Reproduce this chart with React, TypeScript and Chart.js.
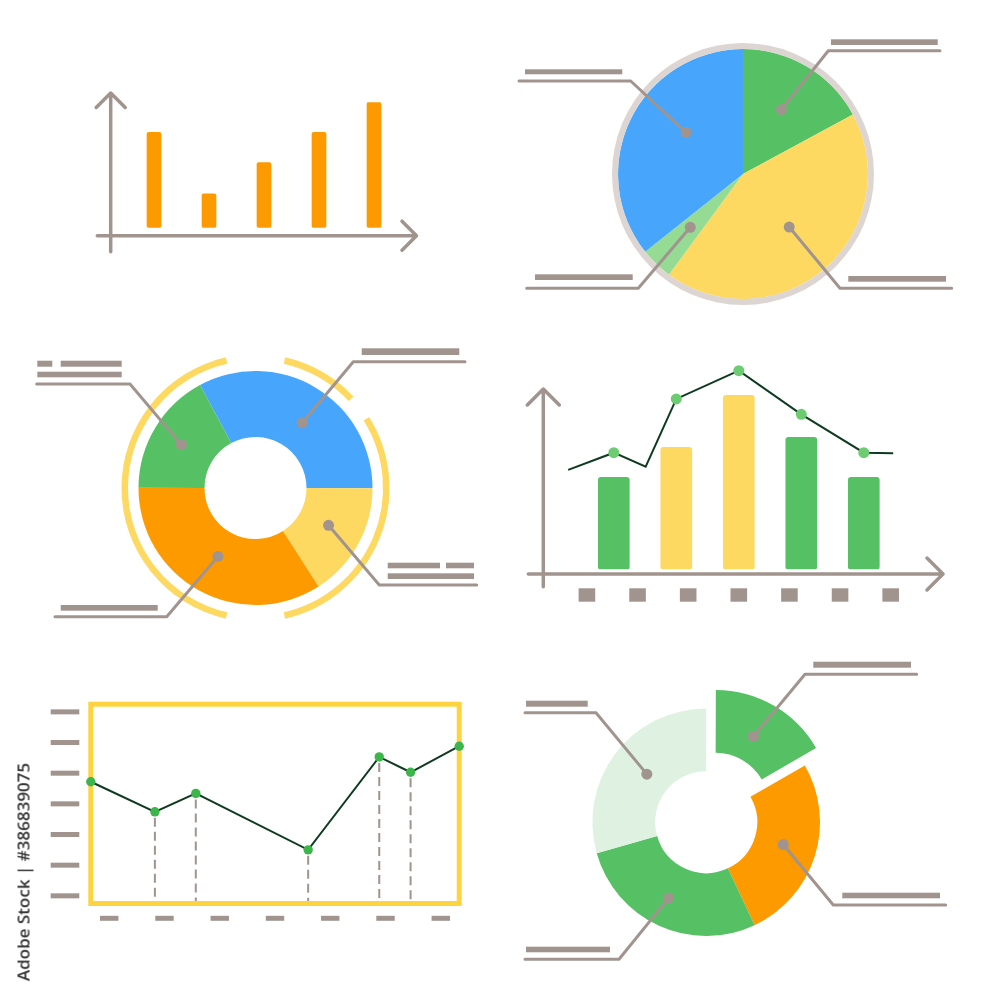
import React, { useEffect, useRef } from "react";
import { Chart, registerables } from "chart.js";
Chart.register(...registerables);

const W = 988;
const H = 1000;

// ---------- colours ----------
const GRAY = "#a1948f";
const RING_GRAY = "#ddd5d2";
const ORANGE = "#fd9a00";
const BLUE = "#47a6fc";
const GREEN = "#56c064";
const LIGHT_GREEN = "#95db94";
const PALE_GREEN = "#dff2e1";
const YELLOW = "#fdd962";
const BOX_YELLOW = "#fdd33f";
const DARK_LINE = "#0e3b20";
const DOT_GREEN = "#6dcc72";
const DOT_GREEN2 = "#3cb54a";
const CLEAR = "rgba(0,0,0,0)";

// ---------- chart 1 (top-left bars) ----------
const barCats1 = ["A", "B", "C", "D", "E"];
const barVals1 = [76, 27, 52, 76, 100];

// ---------- chart 2 (top-right pie) ----------
const pieLabels2 = ["Green", "Yellow", "Light green", "Blue"];
const pieVals2 = [17.1, 43.0, 4.2, 35.7];

// ---------- chart 3 (middle-left donut) ----------
const donutLabels3 = ["Blue", "Yellow", "Orange", "Green"];
const donutVals3 = [32.9, 15.9, 34.1, 17.1];
const ringArcs3 = [34.2, 11, 109.2, 25.6, 154.4, 25.6];
const ringShown3 = [1, 0, 1, 0, 1, 0];

// ---------- chart 4 (middle-right bars + line) ----------
const barX4 = [1, 2, 3, 4, 5];
const barY4 = [46, 61, 87, 66, 46];
const barKind4 = ["g", "y", "y", "g", "g"];
const lineX4 = [0.27, 1, 1.51, 2, 3, 4, 5, 5.47];
const lineY4 = [49.7, 58.3, 51.3, 85.2, 99.3, 77.5, 58.3, 58];
const lineDots4 = [0, 1, 0, 1, 1, 1, 1, 0];
const xSlots4 = [0.57, 1.38, 2.19, 3, 3.81, 4.62, 5.43];

// ---------- chart 5 (bottom-left line) ----------
const lineX5 = [0, 17.4, 28.5, 59, 78.3, 86.8, 100];
const lineY5 = [3.72, 2.74, 3.34, 1.5, 4.53, 4.03, 4.88];
const yTicks5 = [0, 1, 2, 3, 4, 5, 6];
const xTicks5 = [5, 20, 35, 50, 65, 80, 95];

// ---------- chart 6 (bottom-right donut) ----------
const donutLabels6 = ["Green (out)", "Orange", "Green", "Pale green"];
const donutVals6 = [16.7, 26.3, 27.6, 29.4];

// ---------- helpers ----------
const pad = (l: number, t: number, r: number, b: number) => ({
  left: l,
  top: t,
  right: W - r,
  bottom: H - b,
});

const baseOptions = (padding: any) => ({
  animation: false,
  responsive: false,
  events: [],
  layout: { padding },
  plugins: { legend: { display: false }, tooltip: { enabled: false } },
});

function arrow(ctx: CanvasRenderingContext2D, x1: number, y1: number, x2: number, y2: number, head: number) {
  const len = Math.hypot(x2 - x1, y2 - y1);
  const dx = (x2 - x1) / len;
  const dy = (y2 - y1) / len;
  const nx = -dy;
  const ny = dx;
  ctx.beginPath();
  ctx.moveTo(x1, y1);
  ctx.lineTo(x2, y2);
  ctx.moveTo(x2 - dx * head + nx * head, y2 - dy * head + ny * head);
  ctx.lineTo(x2, y2);
  ctx.lineTo(x2 - dx * head - nx * head, y2 - dy * head - ny * head);
  ctx.stroke();
}

type Callout = {
  ds: number;
  i: number;
  t: number;
  r: number;
  elbow: [number, number];
  endX: number;
  bars: number[][];
};

const calloutPlugin = (callouts: Callout[]) => ({
  id: "callouts",
  afterDatasetsDraw(chart: any) {
    const ctx: CanvasRenderingContext2D = chart.ctx;
    ctx.save();
    callouts.forEach((c) => {
      const arc: any = chart.getDatasetMeta(c.ds).data[c.i];
      const { x, y, startAngle, endAngle, innerRadius, outerRadius } = arc;
      const off = (arc.options.offset || 0) / 4;
      const mid = (startAngle + endAngle) / 2;
      const a = startAngle + (endAngle - startAngle) * c.t;
      const rr = innerRadius + (outerRadius - innerRadius) * c.r;
      const px = x + Math.cos(mid) * off + Math.cos(a) * rr;
      const py = y + Math.sin(mid) * off + Math.sin(a) * rr;
      ctx.strokeStyle = GRAY;
      ctx.fillStyle = GRAY;
      ctx.lineWidth = 3;
      ctx.lineCap = "round";
      ctx.lineJoin = "round";
      ctx.beginPath();
      ctx.moveTo(px, py);
      ctx.lineTo(c.elbow[0], c.elbow[1]);
      ctx.lineTo(c.endX, c.elbow[1]);
      ctx.stroke();
      ctx.beginPath();
      ctx.arc(px, py, 5.5, 0, Math.PI * 2);
      ctx.fill();
      c.bars.forEach((b) => ctx.fillRect(b[0], b[1], b[2] - b[0], b[3] - b[1]));
    });
    ctx.restore();
  },
});

// ---------- chart configs ----------
function config1() {
  return {
    type: "bar",
    data: {
      labels: barCats1,
      datasets: [
        {
          data: barVals1,
          backgroundColor: ORANGE,
          barThickness: 14,
          borderRadius: 2,
          borderSkipped: false,
        },
      ],
    },
    options: {
      ...baseOptions(pad(126.5, 102.3, 401.5, 227.7)),
      scales: {
        x: { display: false },
        y: { display: false, min: 0, max: 100 },
      },
    },
    plugins: [
      {
        id: "axes1",
        beforeDatasetsDraw(chart: any) {
          const ctx: CanvasRenderingContext2D = chart.ctx;
          ctx.save();
          ctx.strokeStyle = GRAY;
          ctx.lineWidth = 3.5;
          ctx.lineCap = "round";
          ctx.lineJoin = "round";
          arrow(ctx, 110.7, 251.7, 110.7, 93, 14.5);
          arrow(ctx, 97.3, 235.7, 416.5, 235.7, 14.5);
          ctx.restore();
        },
      },
    ],
  };
}

function config2() {
  const cx = 743;
  const cy = 174;
  const s = 140;
  return {
    type: "doughnut",
    data: {
      labels: pieLabels2,
      datasets: [
        { data: [1], backgroundColor: RING_GRAY, weight: 6, borderWidth: 0 },
        {
          data: pieVals2,
          backgroundColor: [GREEN, YELLOW, LIGHT_GREEN, BLUE],
          weight: 125,
          borderWidth: 0,
        },
      ],
    },
    options: {
      ...baseOptions(pad(cx - s, cy - s, cx + s, cy + s)),
      radius: 131,
      cutout: 0,
    },
    plugins: [
      calloutPlugin([
        { ds: 1, i: 0, t: 0.5, r: 0.6, elbow: [828.3, 50.7], endX: 940, bars: [[831, 39.3, 937.7, 45]] },
        { ds: 1, i: 1, t: 0.5, r: 0.563, elbow: [840, 288.3], endX: 951.7, bars: [[848.3, 276, 946, 281.7]] },
        { ds: 1, i: 2, t: 0.55, r: 0.6, elbow: [638.3, 288.3], endX: 526.7, bars: [[535, 274.3, 632.7, 280]] },
        { ds: 1, i: 3, t: 0.58, r: 0.563, elbow: [630.7, 81], endX: 519, bars: [[525, 69.3, 622.3, 74.3]] },
      ]),
    ],
  };
}

function config3() {
  const cx = 255.5;
  const cy = 488;
  const s = 145;
  return {
    type: "doughnut",
    data: {
      labels: donutLabels3,
      datasets: [
        {
          data: ringArcs3,
          backgroundColor: ringShown3.map((v) => (v ? YELLOW : CLEAR)),
          weight: 6.5,
          borderWidth: 0,
          rotation: 12.8,
        },
        { data: [1], backgroundColor: CLEAR, weight: 10.5, borderWidth: 0 },
        {
          data: donutVals3,
          backgroundColor: [BLUE, YELLOW, ORANGE, GREEN],
          weight: 66,
          borderWidth: 0,
          rotation: -28.3,
        },
      ],
    },
    options: {
      ...baseOptions(pad(cx - s, cy - s, cx + s, cy + s)),
      radius: 134,
      cutout: (51 / 134) * 100 + "%",
    },
    plugins: [
      calloutPlugin([
        { ds: 2, i: 0, t: 0.54, r: 0.44, elbow: [353.3, 361.7], endX: 465, bars: [[361.7, 348.3, 459.3, 355]] },
        {
          ds: 2, i: 1, t: 0.47, r: 0.47, elbow: [379.3, 585], endX: 476.7,
          bars: [[387.7, 562.7, 440, 568.3], [446, 562.7, 474, 568.3], [387.7, 573.3, 474, 579]],
        },
        { ds: 2, i: 2, t: 0.5, r: 0.41, elbow: [166.7, 616.7], endX: 55, bars: [[60.7, 605, 157.7, 610.7]] },
        {
          ds: 2, i: 3, t: 0.49, r: 0.53, elbow: [130, 384], endX: 36.7,
          bars: [[37.3, 360.7, 52.3, 366.7], [60.7, 360.7, 121.7, 366.7], [37.3, 371.7, 121.7, 377.3]],
        },
      ]),
    ],
  };
}

function config4() {
  return {
    type: "bar",
    data: {
      datasets: [
        {
          type: "line",
          order: 0,
          data: lineX4.map((x, i) => ({ x, y: lineY4[i] })),
          borderColor: DARK_LINE,
          borderWidth: 2,
          tension: 0,
          pointRadius: lineDots4.map((d) => (d ? 5.5 : 0)),
          pointBackgroundColor: DOT_GREEN,
          pointBorderWidth: 0,
          clip: false,
        },
        {
          type: "bar",
          order: 1,
          data: barX4.map((x, i) => ({ x, y: barY4[i] })),
          backgroundColor: barKind4.map((k) => (k === "g" ? GREEN : YELLOW)),
          barThickness: 31,
          borderRadius: 3,
          borderSkipped: false,
        },
      ],
    },
    options: {
      ...baseOptions(pad(551.3, 369.3, 926.3, 569.3)),
      scales: {
        x: { type: "linear", display: false, min: 0, max: 6, offset: false },
        y: { display: false, min: 0, max: 100 },
      },
    },
    plugins: [
      {
        id: "axes4",
        beforeDatasetsDraw(chart: any) {
          const ctx: CanvasRenderingContext2D = chart.ctx;
          const xs = chart.scales.x;
          ctx.save();
          ctx.strokeStyle = GRAY;
          ctx.lineWidth = 3.5;
          ctx.lineCap = "round";
          ctx.lineJoin = "round";
          arrow(ctx, 543.3, 586.7, 543.3, 389, 16);
          arrow(ctx, 528.3, 574, 943, 574, 16);
          ctx.fillStyle = GRAY;
          xSlots4.forEach((v) => {
            const px = xs.getPixelForValue(v);
            ctx.fillRect(px - 8.3, 588.3, 16.6, 13.4);
          });
          ctx.restore();
        },
      },
    ],
  };
}

function config5() {
  return {
    type: "line",
    data: {
      datasets: [
        {
          data: lineX5.map((x, i) => ({ x, y: lineY5[i] })),
          borderColor: DARK_LINE,
          borderWidth: 2,
          tension: 0,
          pointRadius: 4.7,
          pointBackgroundColor: DOT_GREEN2,
          pointBorderWidth: 0,
          clip: false,
        },
      ],
    },
    options: {
      ...baseOptions(pad(90.8, 704.2, 459.2, 903.5)),
      scales: {
        x: { type: "linear", display: false, min: 0, max: 100 },
        y: { display: false, min: -0.25, max: 6.25 },
      },
    },
    plugins: [
      {
        id: "box5",
        beforeDatasetsDraw(chart: any) {
          const ctx: CanvasRenderingContext2D = chart.ctx;
          const a = chart.chartArea;
          const xs = chart.scales.x;
          const ys = chart.scales.y;
          ctx.save();
          // frame
          ctx.strokeStyle = BOX_YELLOW;
          ctx.lineWidth = 5;
          ctx.strokeRect(a.left, a.top, a.right - a.left, a.bottom - a.top);
          // drop lines
          ctx.strokeStyle = GRAY;
          ctx.lineWidth = 2;
          ctx.setLineDash([9, 5]);
          lineX5.forEach((x, i) => {
            if (i === 0 || i === lineX5.length - 1) return;
            const px = xs.getPixelForValue(x);
            const py = ys.getPixelForValue(lineY5[i]);
            ctx.beginPath();
            ctx.moveTo(px, py + 6);
            ctx.lineTo(px, a.bottom - 2.5);
            ctx.stroke();
          });
          ctx.setLineDash([]);
          // tick dashes
          ctx.fillStyle = GRAY;
          yTicks5.forEach((v) => {
            const py = ys.getPixelForValue(v);
            ctx.fillRect(50.7, py - 2.5, 28.6, 5);
          });
          xTicks5.forEach((v) => {
            const px = xs.getPixelForValue(v);
            ctx.fillRect(px - 9.2, 915.8, 18.4, 5);
          });
          ctx.restore();
        },
      },
    ],
  };
}

function config6() {
  const cx = 706.2;
  const cy = 822.2;
  const s = 125;
  return {
    type: "doughnut",
    data: {
      labels: donutLabels6,
      datasets: [
        {
          data: donutVals6,
          backgroundColor: [GREEN, ORANGE, GREEN, PALE_GREEN],
          offset: [74, 0, 0, 0],
          borderWidth: 0,
        },
      ],
    },
    options: {
      ...baseOptions(pad(cx - s, cy - s, cx + s, cy + s)),
      radius: 113.8,
      cutout: (51 / 113.8) * 100 + "%",
    },
    plugins: [
      calloutPlugin([
        { ds: 0, i: 0, t: 0.475, r: 0.45, elbow: [805, 674.3], endX: 916.7, bars: [[813.3, 661.7, 911, 667.7]] },
        { ds: 0, i: 1, t: 0.486, r: 0.465, elbow: [833.3, 905], endX: 945.7, bars: [[842.3, 892.7, 940, 898.3]] },
        { ds: 0, i: 2, t: 0.519, r: 0.537, elbow: [619, 959.3], endX: 525, bars: [[526, 946.7, 610, 952.3]] },
        { ds: 0, i: 3, t: 0.518, r: 0.404, elbow: [596, 712.7], endX: 525, bars: [[526, 700.7, 587.7, 706.7]] },
      ]),
    ],
  };
}

function ChartCanvas({ make }: { make: () => any }) {
  const ref = useRef<HTMLCanvasElement>(null);
  useEffect(() => {
    const chart = new Chart(ref.current as HTMLCanvasElement, make());
    return () => chart.destroy();
  }, []);
  return (
    <canvas
      ref={ref}
      width={W}
      height={H}
      style={{ position: "absolute", left: 0, top: 0, width: W, height: H }}
    />
  );
}

export default function App() {
  return (
    <div
      style={{
        position: "absolute",
        left: 0,
        top: 0,
        width: W,
        height: H,
        background: "#ffffff",
        overflow: "hidden",
      }}
    >
      <ChartCanvas make={config1} />
      <ChartCanvas make={config2} />
      <ChartCanvas make={config3} />
      <ChartCanvas make={config4} />
      <ChartCanvas make={config5} />
      <ChartCanvas make={config6} />
      <div
        style={{
          position: "absolute",
          left: 23,
          top: 872,
          transform: "translate(-50%, -50%) rotate(-90deg)",
          whiteSpace: "nowrap",
          fontFamily: "'Open Sans', sans-serif",
          fontSize: 17,
          fontWeight: 600,
          color: "#333333",
        }}
      >
        Adobe Stock | #386839075
      </div>
    </div>
  );
}
